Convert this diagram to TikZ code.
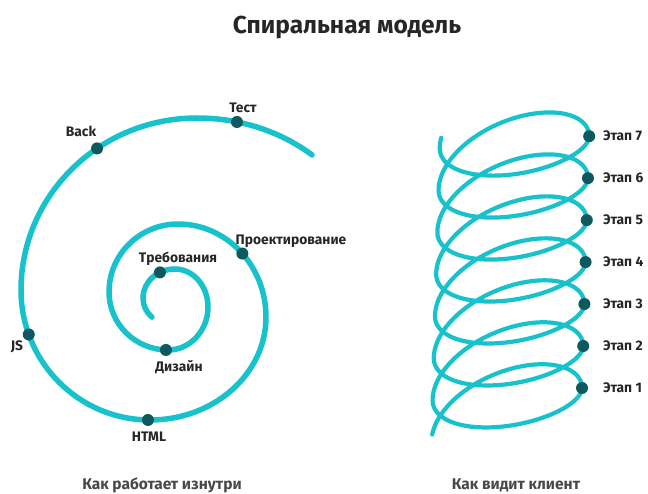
\documentclass[tikz,border=0pt]{standalone}
\usepackage{fontspec}
\setmainfont{Fira Sans}
\usepackage{tikz}
\usetikzlibrary{calc}
\definecolor{SpTeal}{RGB}{24,194,205}
\definecolor{SpDot}{RGB}{14,88,96}
\definecolor{SpText}{RGB}{38,38,38}
\definecolor{SpGray}{RGB}{72,72,72}

\begin{document}
\begin{tikzpicture}[x=1pt, y=1pt,
            dot/.style={circle, fill=SpDot, minimum size=12pt, inner sep=0pt},
            lbl/.style={font=\bfseries\fontsize{13.8}{14}\selectfont, text=SpText,
                        inner sep=0pt, anchor=base},
            caption/.style={font=\bfseries\fontsize{15.5}{16}\selectfont, text=SpGray,
                        inner sep=0pt, anchor=base},
            spiral/.style={draw=SpTeal, line width=5.5pt, line cap=round},
            helix/.style={draw=SpTeal, line width=4.2pt, line cap=round}
          ]
          \useasboundingbox[fill=white] (0,0) rectangle (648,493);

          \node[font=\bfseries\fontsize{24.5}{26}\selectfont, text=SpText,
                inner sep=0pt, anchor=base] (title) at (347,459.5) {Спиральная модель};

          \draw[spiral] (151.93,175.85)
                arc[start angle=-130, end angle=-180, x radius=25pt, y radius=25pt]
                arc[start angle=180, end angle=90, x radius=32pt, y radius=29pt]
                arc[start angle=90, end angle=0, x radius=33pt, y radius=38pt]
                arc[start angle=0, end angle=-90, x radius=40pt, y radius=43pt]
                arc[start angle=-90, end angle=-180, x radius=59pt, y radius=58pt]
                arc[start angle=180, end angle=90, x radius=69pt, y radius=68pt]
                arc[start angle=90, end angle=0, x radius=88pt, y radius=93pt]
                arc[start angle=0, end angle=-90, x radius=116pt, y radius=103pt]
                arc[start angle=-90, end angle=-180, x radius=129pt, y radius=130pt]
                arc[start angle=180, end angle=90, x radius=176pt, y radius=172pt]
                arc[start angle=90, end angle=48.9, x radius=175pt, y radius=150pt];

          \node[dot] (treb)   at ($(175,195)+(118:32 and 29)$) {};
          \node[dot] (dizain) at ($(168,201)+(-92:59 and 58)$) {};
          \node[dot] (proekt) at ($(178,176)+(43:88 and 93)$) {};
          \node[dot] (html)   at ($(150,176)+(-91:116 and 103)$) {};
          \node[dot] (js)     at ($(150,203)+(-160:129 and 130)$) {};
          \node[dot] (back)   at ($(197,203)+(124.6:176 and 172)$) {};
          \node[dot] (test)   at ($(197,225)+(76.8:175 and 150)$) {};

          \node[lbl] (ltreb)   at (178,230.5) {Требования};
          \node[lbl] (ldizain) at (179,121.5) {Дизайн};
          \node[lbl] (lproekt) at (291,248.5) {Проектирование};
          \node[lbl] (lhtml)   at (149,51.5)  {HTML};
          \node[lbl] (ljs)     at (17,142.5)  {JS};
          \node[lbl] (lback)   at (81,356.5)  {Back};
          \node[lbl] (ltest)   at (243,380.5) {Тест};

          \draw[helix] plot[domain=-3:41.04, samples=800]
                ({507+0.19*\x+75*cos(\x r)},
                 {88.5+6.68*\x-38.5*sin(\x r)+6.5*abs(sin(\x r))+16.5*cos(\x r)});

          \foreach \k in {1,...,7} {
            \node[dot] (st\k) at ({582+1.194*(\k-1)}, {105+41.97*(\k-1)}) {};
            \node[lbl, anchor=base west] (lst\k) at (603, {100.5+41.97*(\k-1)}) {Этап \k};
          }

          \node[caption] (inside) at (162,4) {Как работает изнутри};
          \node[caption] (client) at (516,4) {Как видит клиент};
        \end{tikzpicture}
\end{document}
